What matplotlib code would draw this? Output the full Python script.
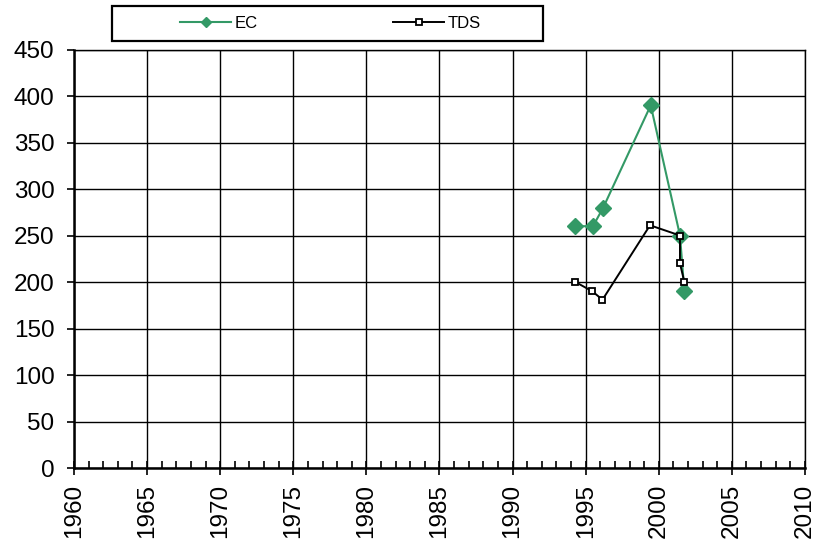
import matplotlib.pyplot as plt
from matplotlib.ticker import MultipleLocator
from matplotlib.patches import Rectangle

plt.rcParams['font.family'] = ['Liberation Sans', 'DejaVu Sans']

# --- Data ---
ec_years = [1994.3, 1995.5, 1996.2, 1999.45, 2001.45, 2001.75]
ec_values = [260, 260, 280, 390, 250, 190]

tds_years = [1994.3, 1995.45, 1996.15, 1999.4, 2001.45, 2001.45, 2001.75]
tds_values = [200, 190, 181, 261, 250, 220, 200]

green = "#339966"

fig = plt.figure(figsize=(8.15, 5.47), dpi=100)
ax = fig.add_axes([0.0908, 0.1444, 0.8969, 0.7651])

ec_line, = ax.plot(ec_years, ec_values, color=green, linewidth=1.5, marker="D",
                   markersize=8, markerfacecolor=green, markeredgecolor=green,
                   label="EC", zorder=3)
tds_line, = ax.plot(tds_years, tds_values, color="black", linewidth=1.4, marker="s",
                    markersize=4.5, markerfacecolor="white", markeredgecolor="black",
                    markeredgewidth=1.3, label="TDS", zorder=4)

ax.set_xlim(1960, 2010)
ax.set_ylim(0, 450)
ax.xaxis.set_major_locator(MultipleLocator(5))
ax.xaxis.set_minor_locator(MultipleLocator(1))
ax.yaxis.set_major_locator(MultipleLocator(50))

ax.grid(True, which="major", color="black", linewidth=1.0)
ax.set_axisbelow(True)

ax.tick_params(axis="x", which="major", direction="inout", length=9.5,
               width=1.2, labelsize=17.5, labelrotation=90, pad=6.5)
ax.tick_params(axis="x", which="minor", direction="in", length=5, width=1.2)
ax.tick_params(axis="y", which="major", direction="out", length=5,
               width=1.2, labelsize=17.5, pad=9)

for side in ["left", "bottom"]:
    ax.spines[side].set_linewidth(1.8)
for side in ["top", "right"]:
    ax.spines[side].set_linewidth(1.0)

# --- Legend: framed box above the plot, one entry centred in each half ---
box = Rectangle((112 / 815, 1 - 40.5 / 547), 431 / 815, 35 / 547,
                transform=fig.transFigure, fill=False, edgecolor="black",
                linewidth=1.6, zorder=5)
fig.patches.append(box)

for line, cx in [(ec_line, 219 / 815), (tds_line, 437 / 815)]:
    leg = fig.legend(handles=[line], loc="center", bbox_to_anchor=(cx, 1 - 23.5 / 547),
                     frameon=False, fontsize=12, handlelength=3.05,
                     handletextpad=0.22, borderpad=0, borderaxespad=0)
    for h in leg.legend_handles:
        h.set_markersize(5 if line is ec_line else 4)

plt.savefig("out.png", dpi=100)
